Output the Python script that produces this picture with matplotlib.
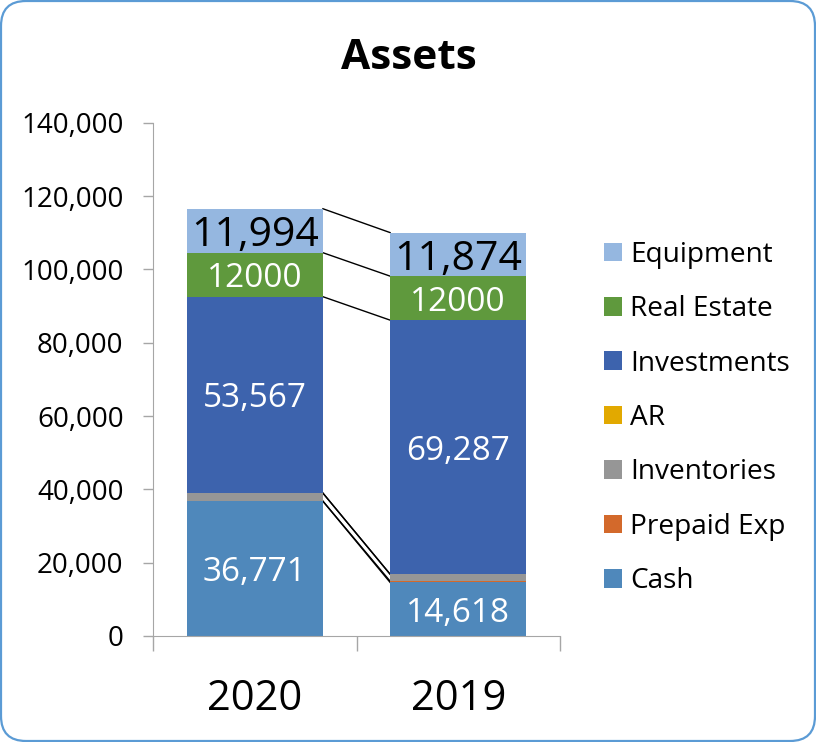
import matplotlib
matplotlib.use("Agg")
import matplotlib.pyplot as plt
from matplotlib.patches import FancyBboxPatch
from matplotlib.ticker import FuncFormatter
import numpy as np

plt.rcParams["font.family"] = ["Open Sans", "DejaVu Sans"]

years = ["2020", "2019"]
series = ["Cash", "Prepaid Exp", "Inventories", "AR", "Investments", "Real Estate", "Equipment"]
cash = [36771, 14618]
prepaid = [0, 350]
inventories = [2200, 1900]
ar = [0, 0]
investments = [53567, 69287]
real_estate = [12000, 12000]
equipment = [11994, 11874]
labels = {
    "Cash": ["36,771", "14,618"],
    "Investments": ["53,567", "69,287"],
    "Real Estate": ["12000", "12000"],
    "Equipment": ["11,994", "11,874"],
}
colors = ["#4F88BB", "#D3692B", "#969696", "#E2A900", "#3D63AD", "#5F993D", "#95B7E0"]

values = [cash, prepaid, inventories, ar, investments, real_estate, equipment]

fig = plt.figure(figsize=(8.16, 7.42), dpi=100)
ax = fig.add_axes([153 / 816, 106 / 742, 407 / 816, 513.3 / 742])

x = np.arange(len(years))
w = 0.67
bottom = np.zeros(len(years))
tops = []
handles = []
for name, vals, col in zip(series, values, colors):
    vals = np.array(vals, dtype=float)
    bars = ax.bar(x, vals, width=w, bottom=bottom, color=col, label=name, zorder=2)
    handles.append(bars)
    if name in labels:
        txt_col = "black" if name == "Equipment" else "white"
        fs = 29.5 if name == "Equipment" else 24
        for xi, b, v, lab in zip(x, bottom, vals, labels[name]):
            ax.text(xi, b + v / 2, lab, ha="center", va="center_baseline",
                    color=txt_col, fontsize=fs, zorder=3)
    bottom = bottom + vals
    tops.append(bottom.copy())

# series lines between the bars
for t in tops:
    ax.plot([x[0] + w / 2, x[1] - w / 2], [t[0], t[1]], color="black", lw=1, zorder=1)

ax.set_xlim(-0.5, 1.5)
ax.set_ylim(0, 140000)
ax.set_yticks(np.arange(0, 140001, 20000))
ax.yaxis.set_major_formatter(FuncFormatter(lambda v, p: f"{int(v):,}"))
ax.set_xticks(x)
ax.set_xticklabels(years)
ax.set_xticks([-0.5, 0.5, 1.5], minor=True)
ax.tick_params(axis="x", which="major", length=0, pad=30, labelsize=30)
ax.tick_params(axis="x", which="minor", length=10.8, color="#A6A6A6", width=1)
ax.tick_params(axis="y", length=7.2, color="#A6A6A6", width=1, pad=14, labelsize=20)
for s in ["top", "right"]:
    ax.spines[s].set_visible(False)
for s in ["left", "bottom"]:
    ax.spines[s].set_color("#A6A6A6")

fig.text(0.501, 0.921, "Assets", ha="center", va="center", fontsize=30.5, fontweight="bold")

fig.legend(handles[::-1], series[::-1], loc="center left",
           bbox_to_anchor=(604 / 816, 1 - 418 / 742), frameon=False,
           fontsize=20.2, handlelength=0.64, handleheight=0.64,
           handletextpad=0.3, labelspacing=0.94, borderpad=0, borderaxespad=0)

border = FancyBboxPatch((0.01, 0.01), 8.14, 7.40,
                        boxstyle="round,pad=0,rounding_size=0.25",
                        transform=fig.dpi_scale_trans, fc="none",
                        ec="#5B9BD5", lw=1.6)
fig.add_artist(border)

fig.savefig("out.png", dpi=100)
